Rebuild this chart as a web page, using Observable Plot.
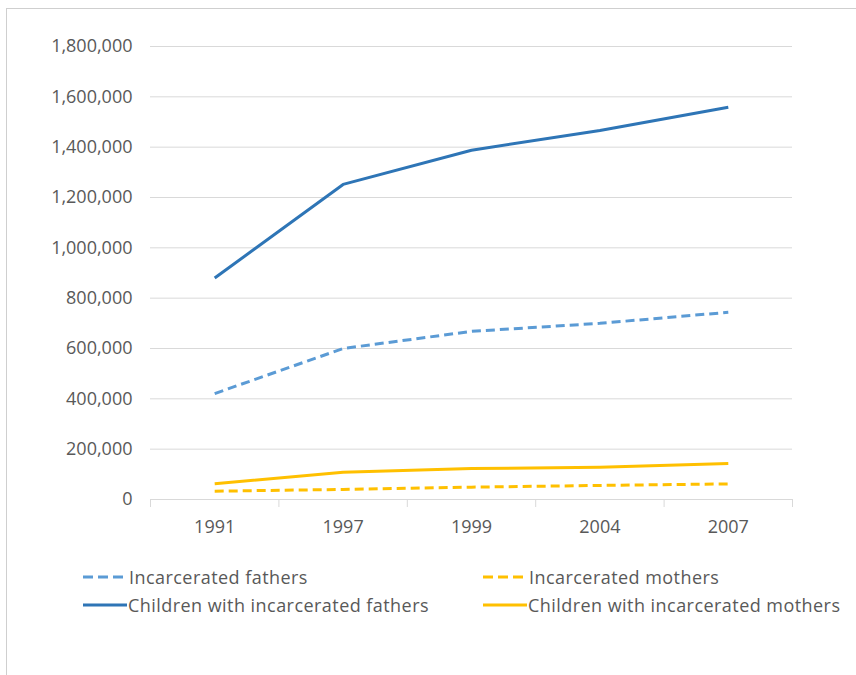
<!DOCTYPE html>
<html>
<head>
<meta charset="utf-8">
<script src="https://cdn.jsdelivr.net/npm/d3@7"></script>
<script src="https://cdn.jsdelivr.net/npm/@observablehq/plot@0.6"></script>
<style>
  body { margin: 0; background: #fff; font-family: "Open Sans", sans-serif; }
  #wrap { position: relative; width: 856px; height: 675px; overflow: hidden; }
  #frame { position: absolute; left: 6px; top: 8px; width: 900px; height: 700px; border-left: 1px solid #cfcfcf; border-top: 1px solid #cfcfcf; }
  #chart { position: absolute; left: 0; top: 0; }
  #legend { position: absolute; left: 0; top: 0; width: 856px; height: 675px; pointer-events: none; }
  .item { position: absolute; display: flex; align-items: center; height: 22px; line-height: 22px; font-size: 18px; letter-spacing: 0.45px; color: #595959; white-space: nowrap; }
</style>
</head>
<body>
<div id="wrap">
  <div id="frame"></div>
  <div id="chart"></div>
  <div id="legend"></div>
</div>
<script>
const years = ["1991", "1997", "1999", "2004", "2007"];
const incarceratedFathers = [421000, 600000, 668000, 700000, 744000];
const childrenFathers = [880000, 1252000, 1388000, 1466000, 1559000];
const incarceratedMothers = [33000, 40000, 49000, 56000, 62000];
const childrenMothers = [63000, 108000, 123000, 128000, 143000];
const yTicks = [0, 200000, 400000, 600000, 800000, 1000000, 1200000, 1400000, 1600000, 1800000];

const series = [
  {name: "Incarcerated fathers", values: incarceratedFathers, color: "#5b9bd5", dash: "9,5"},
  {name: "Incarcerated mothers", values: incarceratedMothers, color: "#ffc000", dash: "9,5"},
  {name: "Children with incarcerated fathers", values: childrenFathers, color: "#2e75b6", dash: null},
  {name: "Children with incarcerated mothers", values: childrenMothers, color: "#ffc000", dash: null}
];

const lineMarks = series.map(s =>
  Plot.line(s.values.map((v, i) => ({i, v})), {
    x: "i", y: "v", stroke: s.color, strokeWidth: 3,
    strokeDasharray: s.dash || undefined, strokeLinecap: "butt", strokeLinejoin: "round"
  })
);

const chart = Plot.plot({
  width: 856,
  height: 550,
  marginLeft: 150,
  marginRight: 64,
  marginTop: 46,
  marginBottom: 51,
  style: {fontFamily: '"Open Sans", sans-serif', background: "transparent"},
  x: {domain: [-0.5, years.length - 0.5], axis: null},
  y: {domain: [0, 1800000], axis: null},
  marks: [
    Plot.gridY(yTicks.slice(1), {stroke: "#d9d9d9", strokeOpacity: 1, strokeWidth: 1}),
    Plot.ruleY([0], {stroke: "#d9d9d9", strokeWidth: 1}),
    Plot.axisY({ticks: yTicks, tickSize: 0, tickPadding: 18, tickFormat: d3.format(","), fontSize: 18, fill: "#595959", label: null, style: {letterSpacing: "0.5px"}}),
    Plot.axisX({ticks: d3.range(years.length + 1).map(k => k - 0.5), tickSize: 8, tickFormat: () => "", stroke: "#d9d9d9", label: null}),
    Plot.axisX({ticks: d3.range(years.length), tickSize: 0, tickPadding: 21, tickFormat: i => years[i], fontSize: 18, fill: "#595959", label: null}),
    ...lineMarks
  ]
});
document.getElementById("chart").appendChild(chart);

const pos = [
  {left: 83, top: 566},
  {left: 483, top: 566},
  {left: 83, top: 594},
  {left: 483, top: 594}
];
const legend = document.getElementById("legend");
series.forEach((s, k) => {
  const div = document.createElement("div");
  div.className = "item";
  div.style.left = pos[k].left + "px";
  div.style.top = pos[k].top + "px";
  const w = s.dash ? 40 : 44;
  const gap = s.dash ? 6 : 1;
  div.innerHTML = `<svg width="${w}" height="22" style="margin-right:${gap}px"><line x1="0" x2="${w}" y1="11" y2="11" stroke="${s.color}" stroke-width="3" ${s.dash ? `stroke-dasharray="10,5"` : ""}/></svg><span>${s.name}</span>`;
  legend.appendChild(div);
});
</script>
</body>
</html>
